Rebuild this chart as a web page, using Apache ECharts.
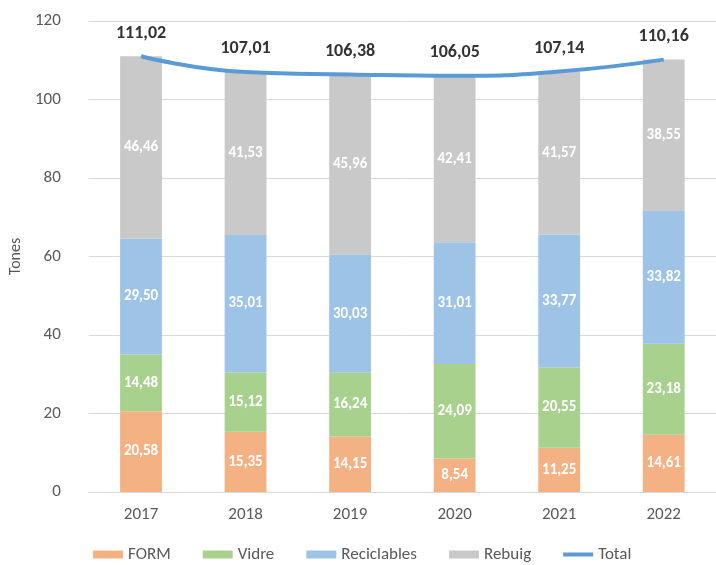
<!DOCTYPE html>
<html lang="ca">
<head>
    <meta charset="UTF-8">
    <title>Tones per fracció</title>
    <script src="https://cdn.jsdelivr.net/npm/echarts@6/dist/echarts.min.js"></script>
    <style>
        html, body { margin: 0; padding: 0; background: #fff; }
    </style>
</head>
<body>
    <div id="main" style="width: 716px;height:565px;"></div>
    <script type="text/javascript">
        var years = ['2017', '2018', '2019', '2020', '2021', '2022'];
        var form = [20.58, 15.35, 14.15, 8.54, 11.25, 14.61];
        var vidre = [14.48, 15.12, 16.24, 24.09, 20.55, 23.18];
        var reciclables = [29.50, 35.01, 30.03, 31.01, 33.77, 33.82];
        var rebuig = [46.46, 41.53, 45.96, 42.41, 41.57, 38.55];
        var total = [111.02, 107.01, 106.38, 106.05, 107.14, 110.16];
        var yTicks = [0, 20, 40, 60, 80, 100, 120];

        function comma(v) {
            return v.toFixed(2).replace('.', ',');
        }

        var font = 'Calibri, Carlito, "Open Sans", sans-serif';

        function barSeries(name, data, color) {
            return {
                name: name,
                type: 'bar',
                stack: 'total',
                data: data,
                barWidth: '40%',
                itemStyle: { color: color },
                label: {
                    show: true,
                    position: 'inside',
                    color: '#fff',
                    fontWeight: 'bold',
                    fontSize: 15,
                    fontFamily: font,
                    formatter: function (p) { return comma(p.value); }
                }
            };
        }

        var myChart = echarts.init(document.getElementById('main'));
        var option = {
            animation: false,
            textStyle: { fontFamily: font },
            grid: { left: 85, top: 21, width: 641, height: 471 },
            legend: {
                bottom: -3,
                left: 88,
                itemWidth: 30,
                itemHeight: 8,
                itemGap: 32,
                textStyle: { fontSize: 17, color: '#595959', fontFamily: font },
                data: [
                    { name: 'FORM', icon: 'rect' },
                    { name: 'Vidre', icon: 'rect' },
                    { name: 'Reciclables', icon: 'rect' },
                    { name: 'Rebuig', icon: 'rect' },
                    { name: 'Total', icon: 'path://M0,0h30v4h-30z' }
                ]
            },
            xAxis: {
                type: 'category',
                data: years,
                axisLine: { lineStyle: { color: '#d9d9d9' } },
                axisTick: { show: false },
                axisLabel: { fontSize: 17, color: '#595959', margin: 14 }
            },
            yAxis: {
                type: 'value',
                min: yTicks[0],
                max: yTicks[yTicks.length - 1],
                interval: 20,
                name: 'Tones',
                nameLocation: 'middle',
                nameGap: 62,
                nameTextStyle: { fontSize: 16, color: '#595959' },
                axisLine: { show: false },
                axisTick: { show: false },
                splitLine: { lineStyle: { color: '#d9d9d9' } },
                axisLabel: { fontSize: 17, color: '#595959', margin: 28 }
            },
            series: [
                barSeries('FORM', form, '#F4B183'),
                barSeries('Vidre', vidre, '#A9D18E'),
                barSeries('Reciclables', reciclables, '#9DC3E6'),
                barSeries('Rebuig', rebuig, '#C9C9C9'),
                {
                    name: 'Total',
                    type: 'line',
                    data: total,
                    smooth: true,
                    symbol: 'circle',
                    symbolSize: 0,
                    showSymbol: true,
                    lineStyle: { color: '#5B9BD5', width: 4 },
                    itemStyle: { color: '#5B9BD5' },
                    label: {
                        show: true,
                        position: 'top',
                        distance: 14,
                        color: '#333',
                        fontWeight: 'bold',
                        fontSize: 18,
                        formatter: function (p) { return comma(p.value); }
                    },
                    z: 5
                }
            ]
        };
        myChart.setOption(option);
    </script>
</body>
</html>
